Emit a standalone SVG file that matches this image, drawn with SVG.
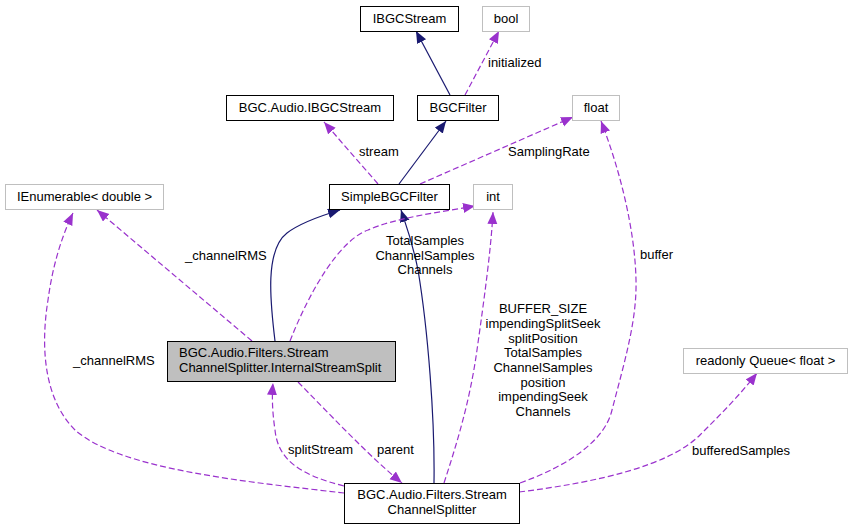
<svg xmlns="http://www.w3.org/2000/svg" width="852" height="529" viewBox="0 0 852 529">
<style>
text{font-family:"Liberation Sans",Arial,sans-serif;font-size:13px;fill:#000}
.n{fill:#fff;stroke:#000;stroke-width:1}
.g{fill:#fff;stroke:#bfbfbf;stroke-width:1}
.cur{fill:#bfbfbf;stroke:#000;stroke-width:1}
.inh{fill:none;stroke:#191970;stroke-width:1.2}
.use{fill:none;stroke:#9a32cd;stroke-width:1.2;stroke-dasharray:6,3}
.m{text-anchor:middle}
</style>
<defs>
<marker id="ah" markerUnits="userSpaceOnUse" markerWidth="13" markerHeight="11" refX="12" refY="5" orient="auto">
<polygon points="0,0 12,5 0,10" fill="#191970"/>
</marker>
<marker id="ap" markerUnits="userSpaceOnUse" markerWidth="13" markerHeight="11" refX="12" refY="5" orient="auto">
<polygon points="0,0 12,5 0,10" fill="#9a32cd"/>
</marker>
</defs>
<g id="connectors">
<path class="inh" d="M399,184 L446,121" marker-end="url(#ah)"/>
<path class="inh" d="M450,95 L416,31" marker-end="url(#ah)"/>
<path class="use" d="M465,95 L499,31" marker-end="url(#ap)"/>
<text x="488" y="67">initialized</text>
<path class="use" d="M378,184 L324,122" marker-end="url(#ap)"/>
<text x="359" y="156">stream</text>
<path class="use" d="M420,184 L573,117" marker-end="url(#ap)"/>
<text x="508" y="156">SamplingRate</text>
<path class="inh" d="M275,341 C270,300 265,250 287,233 C300,223 320,216 340,210" marker-end="url(#ah)"/>
<path class="inh" d="M434,483 C435,420 428,330 418,270 C412,240 406,225 401,210" marker-end="url(#ah)"/>
<path class="use" d="M252,341 L97,210" marker-end="url(#ap)"/>
<text x="185" y="260">_channelRMS</text>
<path class="use" d="M290,341 C310,290 340,240 368,230 C395,218 440,212 475,206" marker-end="url(#ap)"/>
<text class="m" x="425" y="245">TotalSamples</text>
<text class="m" x="425" y="260">ChannelSamples</text>
<text class="m" x="425" y="274">Channels</text>
<path class="use" d="M444,483 C458,440 470,400 477,350 C484,300 491,250 493,212" marker-end="url(#ap)"/>
<text class="m" x="543" y="313">BUFFER_SIZE</text>
<text class="m" x="543" y="328">impendingSplitSeek</text>
<text class="m" x="543" y="343">splitPosition</text>
<text class="m" x="543" y="357">TotalSamples</text>
<text class="m" x="543" y="372">ChannelSamples</text>
<text class="m" x="543" y="387">position</text>
<text class="m" x="543" y="401">impendingSeek</text>
<text class="m" x="543" y="416">Channels</text>
<path class="use" d="M520,483 C570,465 605,440 612,410 C625,360 637,320 636,280 C635,230 620,170 601,121" marker-end="url(#ap)"/>
<text x="640" y="259">buffer</text>
<path class="use" d="M519,492 C600,482 670,465 700,435 C720,415 740,395 757,373" marker-end="url(#ap)"/>
<text x="692" y="455">bufferedSamples</text>
<path class="use" d="M344,493 C250,482 120,470 75,430 C45,400 40,350 48,300 C52,270 60,240 73,213" marker-end="url(#ap)"/>
<text x="73" y="365">_channelRMS</text>
<path class="use" d="M344,486 C300,475 278,460 275,430 C272,410 272,395 273,383" marker-end="url(#ap)"/>
<text x="288" y="454">splitStream</text>
<path class="use" d="M298,382 L340,425 C360,445 380,465 402,483" marker-end="url(#ap)"/>
<text x="377" y="454">parent</text>
</g>
<g id="IBGCStream"><rect class="n" x="360.5" y="6.5" width="98" height="25"/><text class="m" x="409.5" y="23">IBGCStream</text></g>
<g id="bool"><rect class="g" x="482.5" y="6.5" width="47" height="25"/><text class="m" x="506" y="23">bool</text></g>
<g id="BGCFilter"><rect class="n" x="417.5" y="95.5" width="81" height="25"/><text class="m" x="458" y="112">BGCFilter</text></g>
<g id="BGC.Audio.IBGCStream"><rect class="n" x="226.5" y="95.5" width="167" height="25"/><text class="m" x="310" y="112">BGC.Audio.IBGCStream</text></g>
<g id="float"><rect class="g" x="572.5" y="95.5" width="47" height="25"/><text class="m" x="596" y="112">float</text></g>
<g id="SimpleBGCFilter"><rect class="n" x="329.5" y="184.5" width="120" height="25"/><text class="m" x="389.5" y="201">SimpleBGCFilter</text></g>
<g id="int"><rect class="g" x="473.5" y="184.5" width="39" height="25"/><text class="m" x="493" y="201">int</text></g>
<g id="IEnumerable"><rect class="g" x="5.5" y="184.5" width="158" height="25"/><text class="m" x="84.5" y="201">IEnumerable&lt; double &gt;</text></g>
<g id="InternalStreamSplit"><rect class="cur" x="167.5" y="341.5" width="228" height="40"/><text x="179" y="357">BGC.Audio.Filters.Stream</text><text x="179" y="372">ChannelSplitter.InternalStreamSplit</text></g>
<g id="ReadonlyQueue"><rect class="g" x="683.5" y="348.5" width="164" height="25"/><text class="m" x="765.5" y="365">readonly Queue&lt; float &gt;</text></g>
<g id="StreamChannelSplitter"><rect class="n" x="344.5" y="483.5" width="175" height="40"/><text class="m" x="432" y="499">BGC.Audio.Filters.Stream</text><text class="m" x="432" y="514">ChannelSplitter</text></g>
</svg>
